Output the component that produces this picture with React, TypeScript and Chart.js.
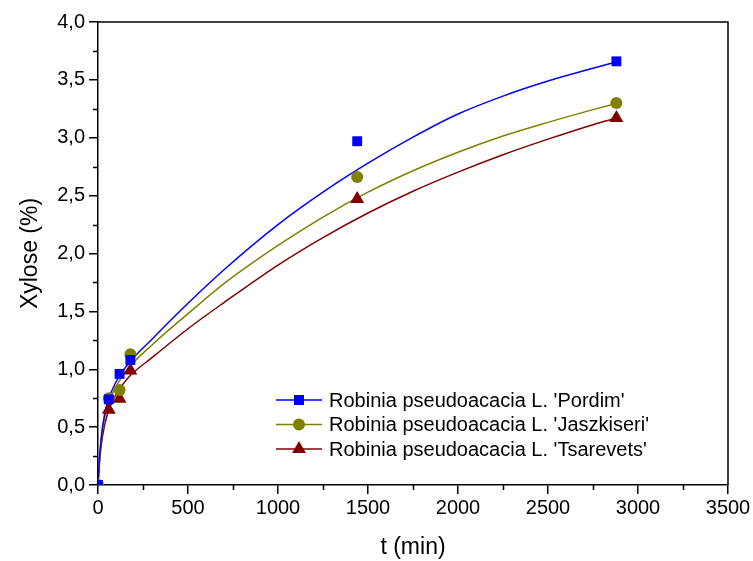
import React, { useEffect, useRef } from "react";
import { Chart, registerables } from "chart.js";

Chart.register(...registerables);

// ---- measured samples ----
const sampleTimes = [0, 60, 120, 180, 1440, 2880];
const pordim = [0, 0.74, 0.96, 1.08, 2.97, 3.66];
const jaszkiseri = [0, 0.75, 0.82, 1.13, 2.66, 3.3];
const tsarevets = [0, 0.65, 0.745, 0.99, 2.47, 3.17];

// ---- fitted curves ----
const fitTimes = [0, 10, 25, 50, 100, 170, 300, 500, 700, 1000, 1250, 1500, 1750, 2000, 2250, 2500, 2750, 2880];
const pordimFit = [0, 0.27, 0.5, 0.7, 0.89, 1.05, 1.26, 1.57, 1.86, 2.25, 2.53, 2.78, 3.005, 3.205, 3.36, 3.49, 3.6, 3.655];
const jaszkiseriFit = [0, 0.26, 0.48, 0.67, 0.85, 1.01, 1.21, 1.48, 1.74, 2.07, 2.315, 2.53, 2.715, 2.875, 3.015, 3.133, 3.243, 3.297];
const tsarevetsFit = [0, 0.23, 0.42, 0.6, 0.78, 0.93, 1.1, 1.35, 1.576, 1.9, 2.138, 2.35, 2.538, 2.703, 2.853, 2.988, 3.113, 3.17];

const seriesNames = [
  "Robinia pseudoacacia L. 'Pordim'",
  "Robinia pseudoacacia L. 'Jaszkiseri'",
  "Robinia pseudoacacia L. 'Tsarevets'",
];
const seriesColors = ["#0000ff", "#808000", "#800000"];
const seriesMarkers = ["rect", "circle", "triangle"];

const xTitle = "t (min)";
const yTitle = "Xylose (%)";
const xMin = 0, xMax = 3500, xStep = 500;
const yMin = 0, yMax = 4, yStep = 0.5;

const FONT = "'Liberation Sans', Arial, sans-serif";

function toPoints(xs: number[], ys: number[]) {
  return xs.map((x, i) => ({ x, y: ys[i] }));
}

function drawMarker(ctx: CanvasRenderingContext2D, style: string, x: number, y: number, color: string) {
  ctx.fillStyle = color;
  ctx.beginPath();
  if (style === "rect") {
    ctx.rect(x - 5, y - 5, 10, 10);
  } else if (style === "circle") {
    ctx.arc(x, y, 6, 0, Math.PI * 2);
  } else {
    const r = 8;
    ctx.moveTo(x, y - r);
    ctx.lineTo(x + r * Math.sin((2 * Math.PI) / 3), y - r * Math.cos((2 * Math.PI) / 3));
    ctx.lineTo(x + r * Math.sin((4 * Math.PI) / 3), y - r * Math.cos((4 * Math.PI) / 3));
    ctx.closePath();
  }
  ctx.fill();
}

const framePlugin = {
  id: "frameAndMinorTicks",
  afterDraw(chart: any) {
    const { ctx, chartArea: a, scales } = chart;
    const x = scales.x, y = scales.y;
    ctx.save();
    ctx.strokeStyle = "#000";
    ctx.lineWidth = 1.5;
    ctx.beginPath();
    ctx.moveTo(a.left, a.top);
    ctx.lineTo(a.right, a.top);
    ctx.lineTo(a.right, a.bottom);
    ctx.stroke();
    ctx.beginPath();
    for (let v = xMin + xStep / 2; v < xMax; v += xStep) {
      const px = Math.round(x.getPixelForValue(v)) + 0.5;
      ctx.moveTo(px, a.bottom);
      ctx.lineTo(px, a.bottom + 5);
    }
    for (let v = yMin + yStep / 2; v < yMax; v += yStep) {
      const py = Math.round(y.getPixelForValue(v)) + 0.5;
      ctx.moveTo(a.left, py);
      ctx.lineTo(a.left - 5, py);
    }
    ctx.stroke();
    ctx.restore();
  },
};

const legendPlugin = {
  id: "insideLegend",
  afterDraw(chart: any) {
    const { ctx } = chart;
    ctx.save();
    const lineX0 = 276, lineX1 = 322, markX = 299, textX = 329;
    const rows = [400, 424.5, 449];
    seriesNames.forEach((name, i) => {
      const yy = rows[i];
      ctx.strokeStyle = seriesColors[i];
      ctx.lineWidth = 1.5;
      ctx.beginPath();
      ctx.moveTo(lineX0, yy);
      ctx.lineTo(lineX1, yy);
      ctx.stroke();
      drawMarker(ctx, seriesMarkers[i], markX, yy, seriesColors[i]);
      ctx.fillStyle = "#000";
      ctx.font = `20px ${FONT}`;
      ctx.textBaseline = "middle";
      ctx.textAlign = "left";
      ctx.fillText(name, textX, yy + 1);
    });
    ctx.restore();
  },
};

export default function App() {
  const ref = useRef<HTMLCanvasElement | null>(null);

  useEffect(() => {
    if (!ref.current) return;
    const samples = [pordim, jaszkiseri, tsarevets];
    const fits = [pordimFit, jaszkiseriFit, tsarevetsFit];
    const datasets: any[] = [];
    fits.forEach((f, i) => {
      datasets.push({
        label: seriesNames[i] + " fit",
        data: toPoints(fitTimes, f),
        showLine: true,
        borderColor: seriesColors[i],
        backgroundColor: seriesColors[i],
        borderWidth: 1.5,
        pointRadius: 0,
        cubicInterpolationMode: "monotone",
        order: 2,
      });
    });
    samples.forEach((s, i) => {
      datasets.push({
        label: seriesNames[i],
        data: toPoints(sampleTimes, s),
        showLine: false,
        pointStyle: seriesMarkers[i],
        pointRadius: seriesMarkers[i] === "rect" ? 7 : seriesMarkers[i] === "circle" ? 6 : 8,
        pointBorderWidth: 0,
        pointBackgroundColor: seriesColors[i],
        pointBorderColor: seriesColors[i],
        order: 1,
      });
    });

    const tickFont = { family: FONT, size: 20 };
    const titleFont = { family: FONT, size: 23 };

    const chart = new Chart(ref.current, {
      type: "scatter",
      data: { datasets },
      options: {
        responsive: false,
        animation: false,
        devicePixelRatio: 1,
        layout: { padding: { top: 22, right: 25, left: 0, bottom: 0 } },
        plugins: { legend: { display: false }, tooltip: { enabled: false } },
        scales: {
          x: {
            type: "linear",
            min: xMin,
            max: xMax,
            afterFit: (s: any) => { s.height = 76; },
            ticks: {
              stepSize: xStep,
              color: "#000",
              font: tickFont,
              padding: 2,
              autoSkip: false,
              maxRotation: 0,
              callback: (v: any) => String(v),
            },
            grid: { drawOnChartArea: false, drawTicks: true, tickLength: 9, color: "#000", lineWidth: 1.5 },
            border: { display: true, color: "#000", width: 1.5 },
            title: { display: true, text: xTitle, color: "#000", font: titleFont, padding: { top: 0, bottom: 0 } },
          },
          y: {
            type: "linear",
            min: yMin,
            max: yMax,
            afterFit: (s: any) => { s.width = 98; },
            ticks: {
              stepSize: yStep,
              color: "#000",
              font: tickFont,
              padding: 4,
              callback: (v: any) => Number(v).toFixed(1).replace(".", ","),
            },
            grid: { drawOnChartArea: false, drawTicks: true, tickLength: 9, color: "#000", lineWidth: 1.5 },
            border: { display: true, color: "#000", width: 1.5 },
            title: { display: true, text: yTitle, color: "#000", font: titleFont, padding: { top: 17, bottom: 0 } },
          },
        },
      },
      plugins: [framePlugin, legendPlugin],
    } as any);
    return () => chart.destroy();
  }, []);

  return (
    <div style={{ position: "absolute", left: 0, top: 0, width: 753, height: 561, background: "#fff" }}>
      <canvas ref={ref} width={753} height={561} style={{ width: 753, height: 561, display: "block" }} />
    </div>
  );
}
